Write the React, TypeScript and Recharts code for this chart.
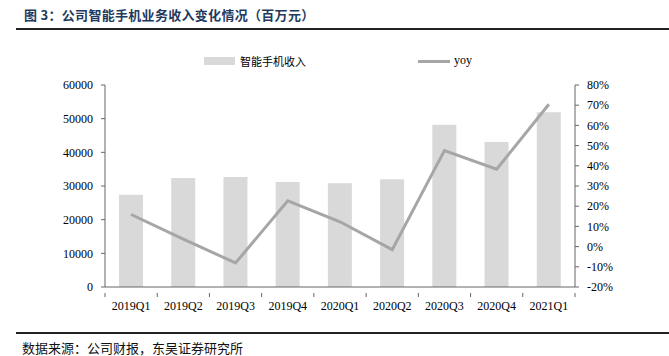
import React from "react"
import { Bar, ComposedChart, Line, XAxis, YAxis } from "recharts"

const quarters = ["2019Q1", "2019Q2", "2019Q3", "2019Q4", "2020Q1", "2020Q2", "2020Q3", "2020Q4", "2021Q1"]
const revenue = [27400, 32400, 32700, 31200, 30800, 32000, 48200, 43100, 51900]
const yoy = [15.9, 3.7, -8.1, 22.7, 12.3, -1.5, 47.5, 38.3, 70.5]
const leftTicks = [0, 10000, 20000, 30000, 40000, 50000, 60000]
const rightTicks = [-20, -10, 0, 10, 20, 30, 40, 50, 60, 70, 80]

const BAR_COLOR = "#d9d9d9"
const LINE_COLOR = "#a6a6a6"
const SERIF = "'Liberation Serif', 'DejaVu Serif', serif"
const CJK = "'Noto Sans CJK SC', sans-serif"

const W = 669
const H = 356
const BAND = 470 / quarters.length

// Category tick: label under the centre, tick mark on the boundary between bars
function QuarterTick(props: any) {
  const { x, y, payload, index } = props
  const axisY = y
  return (
    <g>
      <line x1={x - BAND / 2} x2={x - BAND / 2} y1={axisY} y2={axisY + 4} stroke="#666" />
      {index === quarters.length - 1 && (
        <line x1={x + BAND / 2} x2={x + BAND / 2} y1={axisY} y2={axisY + 4} stroke="#666" />
      )}
      <text x={x} y={y} dy={17} textAnchor="middle" fontSize={12} fontFamily={SERIF} fill="#000">
        {payload.value}
      </text>
    </g>
  )
}

function ChartLegend() {
  return (
    <div style={{ position: "absolute", left: 0, top: 52, width: W, height: 20, fontSize: 11 }}>
      <div style={{ position: "absolute", left: 204, top: 5, width: 31, height: 8, background: BAR_COLOR }} />
      <span style={{ position: "absolute", left: 240, top: 1, fontFamily: CJK, color: "#000" }}>智能手机收入</span>
      <div style={{ position: "absolute", left: 418, top: 8, width: 32, height: 3, background: LINE_COLOR }} />
      <span style={{ position: "absolute", left: 454, top: 1, fontFamily: SERIF, fontSize: 12, color: "#000" }}>yoy</span>
    </div>
  )
}

export default function App() {
  const data = quarters.map((q, i) => ({ name: q, revenue: revenue[i], yoy: yoy[i] }))

  return (
    <div style={{ position: "absolute", left: 0, top: 0, width: W, height: H, background: "#fff", overflow: "hidden" }}>
      <div
        style={{
          position: "absolute", left: 24, top: 5, fontFamily: CJK, fontWeight: 700,
          fontSize: 13, color: "#1f3a60", whiteSpace: "nowrap", letterSpacing: 0.3,
        }}
      >
        图 3：公司智能手机业务收入变化情况（百万元）
      </div>
      <div style={{ position: "absolute", left: 16, top: 28, width: W - 16, height: 2, background: "#222" }} />

      <ChartLegend />

      <div style={{ position: "absolute", left: 0, top: 0 }}>
        <ComposedChart
          width={W}
          height={H}
          data={data}
          margin={{ top: 85, right: 0, bottom: 39, left: 0 }}
        >
          <XAxis
            dataKey="name"
            tick={<QuarterTick />}
            tickLine={false}
            axisLine={{ stroke: "#666" }}
            interval={0}
            height={30}
            tickMargin={0}
          />
          <YAxis
            yAxisId="left"
            width={105}
            domain={[0, 60000]}
            ticks={leftTicks}
            interval={0}
            tick={{ fontSize: 12, fontFamily: SERIF, fill: "#000" }}
            tickSize={4}
            tickMargin={8}
            tickLine={{ stroke: "#666" }}
            axisLine={{ stroke: "#666" }}
          />
          <YAxis
            yAxisId="right"
            orientation="right"
            width={94}
            domain={[-20, 80]}
            ticks={rightTicks}
            interval={0}
            tickFormatter={(v: number) => `${v}%`}
            tick={{ fontSize: 12, fontFamily: SERIF, fill: "#000" }}
            tickSize={4}
            tickMargin={8}
            tickLine={{ stroke: "#666" }}
            axisLine={{ stroke: "#666" }}
          />
          <Bar yAxisId="left" dataKey="revenue" name="智能手机收入" fill={BAR_COLOR} barSize={24} isAnimationActive={false} />
          <Line
            yAxisId="right"
            dataKey="yoy"
            name="yoy"
            type="linear"
            stroke={LINE_COLOR}
            strokeWidth={3}
            dot={false}
            activeDot={false}
            isAnimationActive={false}
          />
        </ComposedChart>
      </div>

      <div style={{ position: "absolute", left: 16, top: 332, width: W - 16, height: 1.5, background: "#222" }} />
      <div
        style={{
          position: "absolute", left: 22, top: 338, fontFamily: CJK, fontSize: 13,
          color: "#111", whiteSpace: "nowrap",
        }}
      >
        数据来源：公司财报，东吴证券研究所
      </div>
    </div>
  )
}
